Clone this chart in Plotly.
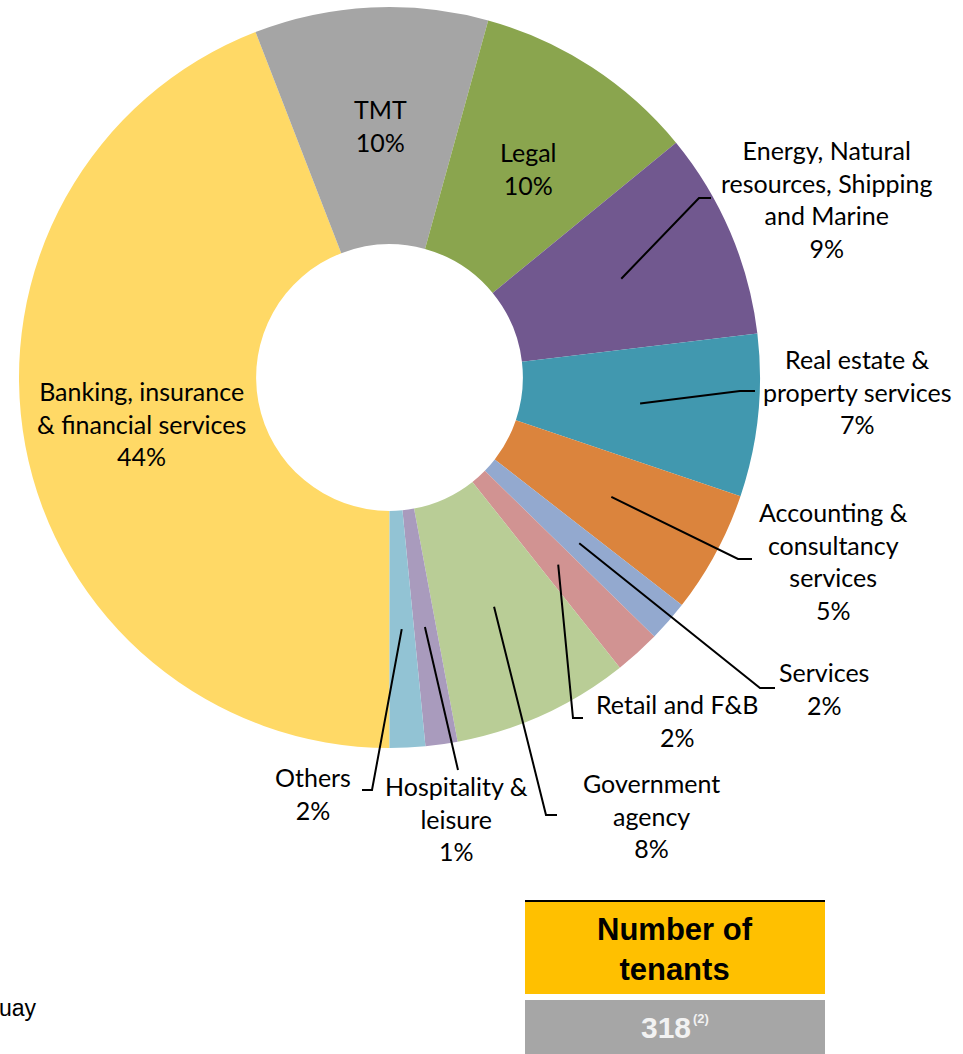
import math
import plotly.graph_objects as go

# ---------------- data ----------------
categories = [
    "Banking, insurance<br>& financial services",
    "TMT",
    "Legal",
    "Energy, Natural<br>resources, Shipping<br>and Marine",
    "Real estate &<br>property services",
    "Accounting &<br>consultancy<br>services",
    "Services",
    "Retail and F&B",
    "Government<br>agency",
    "Hospitality &<br>leisure",
    "Others",
]
shares = [44.2, 10.2, 9.8, 9.05, 7.1, 5.35, 1.8, 2.0, 7.75, 1.4, 1.55]
colors = ["#FFD966", "#A5A5A5", "#8AA54E", "#71588F", "#4198AF", "#DB843D",
          "#93A9CF", "#D19392", "#B9CD96", "#A99BBD", "#92C3D4"]
tenant_title = "Number of<br>tenants"
tenant_count = "318"
tenant_note = "(2)"

# ---------------- layout helpers ----------------
W, H = 963, 1054
CX, CY, R = 389.5, 377.5, 370.5
HOLE = 0.36

def px(x):
    return x / W

def py(y):
    return 1 - y / H

# label block centres and leader line routes (pixels)
label_pos = [(141, 423), (380, 126), (528, 168), (826, 199), (857, 392),
             (833, 561), (824, 688), (677, 720), (651, 815), (456, 818), (313, 793)]
leader = [None, None, None,
          [(699, 198), (711, 198)],
          [(740, 391), (755, 391)],
          [(738, 559), (752, 559)],
          [(760, 688), (775, 688)],
          [(573, 718), (583, 718)],
          [(546, 815), (557, 815)],
          [(458, 770)],
          [(372, 790), (362, 790)]]

fig = go.Figure()
fig.add_trace(go.Pie(
    labels=categories, values=shares, hole=HOLE, sort=False,
    direction="clockwise", rotation=180,
    marker=dict(colors=colors, line=dict(width=0)),
    textinfo="none", hoverinfo="label+percent", showlegend=False,
    domain=dict(x=[px(CX - R), px(CX + R)], y=[py(CY + R), py(CY - R)]),
))

total = sum(shares)
annotations = []
shapes = []
cum = 0.0
ring_mid = R * (1 + HOLE) / 2
for i, (cat, v) in enumerate(zip(categories, shares)):
    pct = round(v / total * 100)
    theta = math.radians(180 + 360 * (cum + v / 2) / total)
    cum += v
    lx, ly = label_pos[i]
    annotations.append(dict(
        x=px(lx), y=py(ly), xref="paper", yref="paper",
        text=f"{cat}<br>{pct}%", showarrow=False,
        xanchor="center", yanchor="middle", align="center",
        font=dict(family="Lato, Open Sans, sans-serif", size=25, color="#000000"),
    ))
    if leader[i]:
        sx = CX + ring_mid * math.sin(theta)
        sy = CY - ring_mid * math.cos(theta)
        pts = [(sx, sy)] + leader[i]
        path = "M " + " L ".join(f"{px(a):.5f},{py(b):.5f}" for a, b in pts)
        shapes.append(dict(type="path", xref="paper", yref="paper", path=path,
                           line=dict(color="#000000", width=2)))

# tenants box
shapes.append(dict(type="rect", xref="paper", yref="paper",
                   x0=px(525), x1=px(825), y0=py(994), y1=py(902),
                   fillcolor="#FFC000", line=dict(width=0), layer="below"))
shapes.append(dict(type="line", xref="paper", yref="paper",
                   x0=px(525), x1=px(825), y0=py(901), y1=py(901),
                   line=dict(color="#000000", width=2)))
shapes.append(dict(type="rect", xref="paper", yref="paper",
                   x0=px(525), x1=px(825), y0=py(1070), y1=py(1000),
                   fillcolor="#A6A6A6", line=dict(width=0), layer="below"))

annotations.append(dict(x=px(675), y=py(949), xref="paper", yref="paper",
                        text=f"<b>{tenant_title}</b>", showarrow=False,
                        xanchor="center", yanchor="middle",
                        font=dict(family="Liberation Sans, Arial", size=31, color="#000000")))
annotations.append(dict(x=px(666), y=py(1027), xref="paper", yref="paper",
                        text=f"<b>{tenant_count}</b>", showarrow=False,
                        xanchor="center", yanchor="middle",
                        font=dict(family="Liberation Sans, Arial", size=30, color="#F2F2F2")))
annotations.append(dict(x=px(701), y=py(1018), xref="paper", yref="paper",
                        text=f"<b>{tenant_note}</b>", showarrow=False,
                        xanchor="center", yanchor="middle",
                        font=dict(family="Liberation Sans, Arial", size=13, color="#F2F2F2")))

# cut-off side text
annotations.append(dict(x=px(-3), y=py(1008), xref="paper", yref="paper",
                        text="uay", showarrow=False, xanchor="left", yanchor="middle",
                        font=dict(family="Liberation Sans, Arial", size=23, color="#000000")))
annotations.append(dict(x=px(-5), y=py(1059), xref="paper", yref="paper",
                        text="o", showarrow=False, xanchor="left", yanchor="middle",
                        font=dict(family="Liberation Sans, Arial", size=23, color="#000000")))

fig.update_layout(
    width=W, height=H, margin=dict(l=0, r=0, t=0, b=0),
    paper_bgcolor="#FFFFFF", plot_bgcolor="#FFFFFF",
    annotations=annotations, shapes=shapes,
)
fig.write_html("out.html")
